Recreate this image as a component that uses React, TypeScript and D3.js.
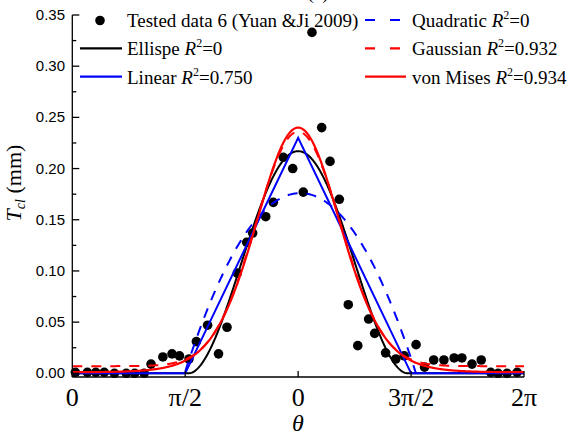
import React from "react";
import * as d3 from "d3";

const W = 581;
const H = 435;

// Tested data 6 (Yuan & Ji 2009): angle (rad) and Tcl (mm)
const thetaData = [
  0.043, 0.209, 0.327, 0.444, 0.586, 0.751, 0.868, 1.0, 1.095, 1.26, 1.387, 1.491,
  1.623, 1.726, 1.882, 2.034, 2.152, 2.295, 2.426, 2.509, 2.69, 2.796, 2.935, 3.066,
  3.213, 3.334, 3.469, 3.585, 3.714, 3.839, 3.971, 4.122, 4.206, 4.358, 4.5, 4.617,
  4.782, 4.9, 5.027, 5.169, 5.311, 5.419, 5.56, 5.688, 5.82, 5.923, 6.047, 6.187,
];
const tclData = [
  0.001, 0.001, 0.001, 0.001, 0.0, 0.0, 0.0, 0.0, 0.009, 0.016, 0.019, 0.017,
  0.014, 0.031, 0.047, 0.019, 0.045, 0.098, 0.128, 0.137, 0.153, 0.167, 0.211, 0.2,
  0.177, 0.333, 0.24, 0.207, 0.17, 0.067, 0.027, 0.053, 0.039, 0.02, 0.014, 0.017,
  0.028, 0.006, 0.013, 0.013, 0.015, 0.015, 0.009, 0.013, 0.001, 0.0, 0.0, 0.001,
];

// Fitted model parameters
const ellipseParams = { peak: 0.217, halfWidth: 1.52, power: 1.85 };
const linearParams = { peak: 0.23, halfWidth: Math.PI / 2 };
const quadraticParams = { peak: 0.176, center: Math.PI + 0.03, k: 0.068 };
const gaussianParams = { base: 0.007, amp: 0.229, sigma: 0.59 };
const vonMisesParams = { base: 0.0005, amp: 0.2395, kappa: 3 };

const xTickValues = [0, Math.PI / 2, Math.PI, (3 * Math.PI) / 2, 2 * Math.PI];
const xTickLabels = ["0", "\u03C0/2", "0", "3\u03C0/2", "2\u03C0"];
const yTickValues = [0, 0.05, 0.1, 0.15, 0.2, 0.25, 0.3, 0.35];
const yMinorValues = [0.025, 0.075, 0.125, 0.175, 0.225, 0.275, 0.325];

const legendLeft = [
  { kind: "dot", label: "Tested data 6 (Yuan &Ji 2009)", r2: "" },
  { kind: "line", color: "#000000", dash: "", label: "Ellispe ", r2: "=0" },
  { kind: "line", color: "#0000ff", dash: "", label: "Linear ", r2: "=0.750" },
];
const legendRight = [
  { kind: "line", color: "#0000ff", dash: "10,15", label: "Quadratic  ", r2: "=0" },
  { kind: "line", color: "#ff0000", dash: "10,15", label: "Gaussian ", r2: "=0.932" },
  { kind: "line", color: "#ff0000", dash: "", label: "von Mises ", r2: "=0.934" },
];

const SERIF = "'Liberation Serif', 'Times New Roman', serif";
const SANS = "'Liberation Sans', Arial, sans-serif";

export default function App() {
  const x = d3.scaleLinear().domain([0, 2 * Math.PI]).range([72.3, 524]);
  const y = d3.scaleLinear().domain([-0.0036, 0.35]).range([377, 15]);

  const grid = d3.range(0, 2 * Math.PI + 1e-9, (2 * Math.PI) / 600);

  const ellipse = (t: number) => {
    const d = Math.abs(t - Math.PI);
    if (d >= ellipseParams.halfWidth) return 0;
    return ellipseParams.peak * Math.pow(Math.cos((Math.PI / 2) * (d / ellipseParams.halfWidth)), ellipseParams.power);
  };
  const linear = (t: number) => {
    const d = Math.abs(t - Math.PI);
    return Math.max(0, linearParams.peak * (1 - d / linearParams.halfWidth));
  };
  const quadratic = (t: number) =>
    quadraticParams.peak - quadraticParams.k * (t - quadraticParams.center) ** 2;
  const gaussian = (t: number) =>
    gaussianParams.base + gaussianParams.amp * Math.exp(-((t - Math.PI) ** 2) / (2 * gaussianParams.sigma ** 2));
  const vonMises = (t: number) =>
    vonMisesParams.base + vonMisesParams.amp * Math.exp(vonMisesParams.kappa * (Math.cos(t - Math.PI) - 1));

  const line = d3
    .line<number>()
    .x((t) => x(t))
    .y((t) => y(0));

  const path = (f: (t: number) => number, ts: number[]) =>
    d3
      .line<number>()
      .x((t) => x(t))
      .y((t) => y(f(t)))(ts) || "";

  const linearTs = [0, Math.PI / 2, Math.PI, (3 * Math.PI) / 2, 2 * Math.PI];
  const quadTs = grid.filter((t) => quadratic(t) >= 0);

  const renderLegend = (items: any[], lx0: number, lx1: number, tx: number) =>
    items.map((it, i) => {
      const base = 27 + i * 28.3;
      const cy = base - 7;
      return (
        <g key={it.label}>
          {it.kind === "dot" ? (
            <circle cx={(lx0 + lx1) / 2 - 1} cy={cy + 0.5} r={4.8} fill="#000" />
          ) : (
            <line
              x1={lx0}
              x2={lx1}
              y1={cy}
              y2={cy}
              stroke={it.color}
              strokeWidth={2.2}
              strokeDasharray={it.dash || undefined}
            />
          )}
          <text x={tx} y={base} fontFamily={SERIF} fontSize={19} fill="#000">
            {it.label}
            {it.r2 !== "" && (
              <>
                <tspan fontStyle="italic">R</tspan>
                <tspan fontSize={12} dy={-8}>2</tspan>
                <tspan dy={8}>{it.r2}</tspan>
              </>
            )}
          </text>
        </g>
      );
    });

  return (
    <svg
      width={W}
      height={H}
      style={{ position: "absolute", left: 0, top: 0, background: "#fff" }}
    >
      <rect x={0} y={0} width={W} height={H} fill="#fff" />
      <text x={318} y={-1} textAnchor="middle" fontFamily={SERIF} fontSize={19}>
        (a)
      </text>

      {/* data points */}
      {thetaData.map((t, i) => (
        <circle key={i} cx={x(t)} cy={y(tclData[i])} r={4.8} fill="#000" />
      ))}

      {/* fitted curves */}
      <path d={path(ellipse, grid)} fill="none" stroke="#000" strokeWidth={2} />
      <path d={path(linear, linearTs)} fill="none" stroke="#0000ff" strokeWidth={2} />
      <path d={path(quadratic, quadTs)} fill="none" stroke="#0000ff" strokeWidth={2} strokeDasharray="10,9" />
      <path d={path(gaussian, grid)} fill="none" stroke="#ff0000" strokeWidth={2} strokeDasharray="10,9" />
      <path d={path(vonMises, grid)} fill="none" stroke="#ff0000" strokeWidth={2.2} />

      {/* axes */}
      <line x1={x(0)} x2={x(2 * Math.PI)} y1={377} y2={377} stroke="#000" strokeWidth={1.3} />
      <line x1={x(0)} x2={x(0)} y1={y(0.35)} y2={377} stroke="#000" strokeWidth={1.3} />

      {xTickValues.map((v, i) => (
        <g key={"xt" + i}>
          <line x1={x(v)} x2={x(v)} y1={377} y2={371} stroke="#000" strokeWidth={1.3} />
          <text
            x={x(v)}
            y={406}
            textAnchor="middle"
            fontFamily={SERIF}
            fontSize={26}
          >
            {xTickLabels[i]}
          </text>
        </g>
      ))}

      {yTickValues.map((v) => (
        <g key={"yt" + v}>
          <line x1={x(0)} x2={x(0) + 7} y1={y(v)} y2={y(v)} stroke="#000" strokeWidth={1.3} />
          <text
            x={65}
            y={y(v) + 5}
            textAnchor="end"
            fontFamily={SANS}
            fontSize={15}
          >
            {v.toFixed(2)}
          </text>
        </g>
      ))}
      {yMinorValues.map((v) => (
        <line key={"ym" + v} x1={x(0)} x2={x(0) + 4} y1={y(v)} y2={y(v)} stroke="#000" strokeWidth={1.3} />
      ))}

      {/* axis titles */}
      <text x={298} y={431} textAnchor="middle" fontFamily={SERIF} fontSize={24} fontStyle="italic">
        {"\u03B8"}
      </text>
      <text
        transform={`translate(21, 183) rotate(-90)`}
        textAnchor="middle"
        fontFamily={SERIF}
        fontSize={22}
      >
        <tspan fontStyle="italic">T</tspan>
        <tspan fontStyle="italic" fontSize={14} dy={4}>cl</tspan>
        <tspan dy={-4}>{" (mm)"}</tspan>
      </text>

      {/* legend */}
      {renderLegend(legendLeft, 80, 122, 127)}
      {renderLegend(legendRight, 365, 406, 412)}
    </svg>
  );
}
